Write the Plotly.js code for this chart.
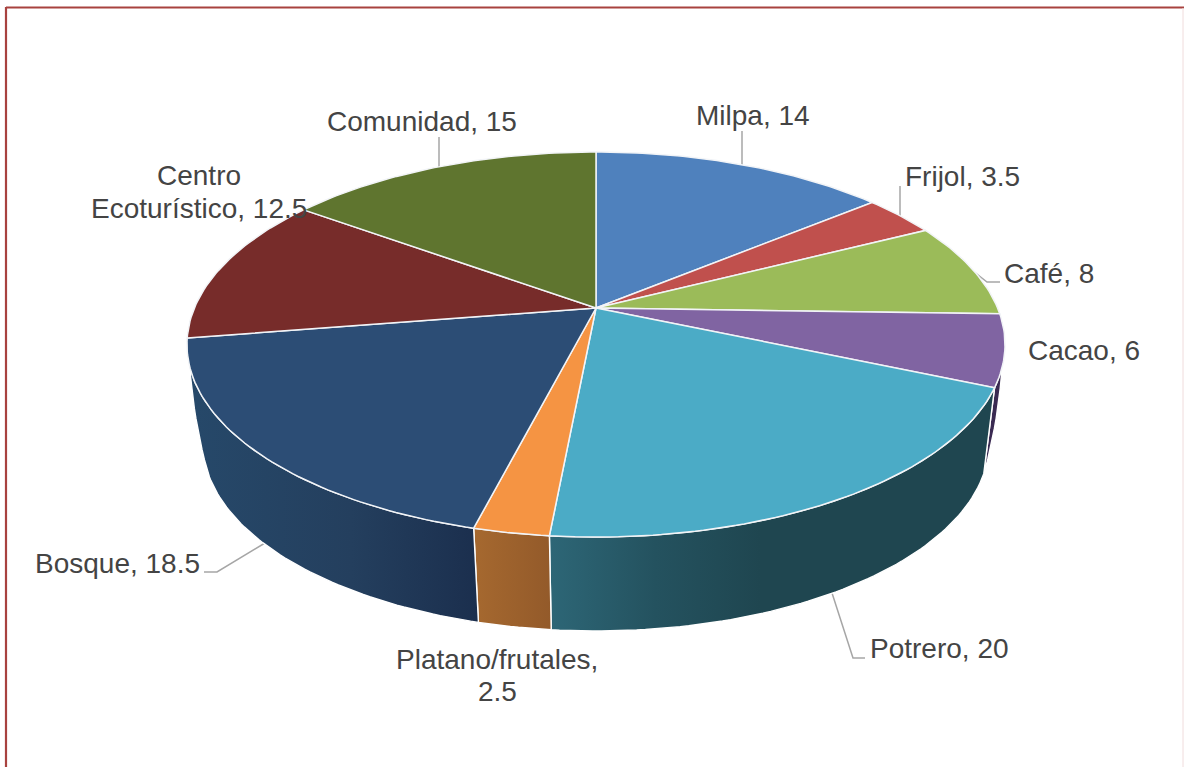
<!DOCTYPE html>
<html>
<head>
<meta charset="utf-8">
<script src="https://cdn.plot.ly/plotly-3.0.1.min.js"></script>
<style>html,body{margin:0;padding:0;background:#fff;overflow:hidden}#chart{width:1184px;height:767px}</style>
</head>
<body>
<div id="chart"></div>
<script>
// Data
const categories = ['Milpa','Frijol','Café','Cacao','Potrero','Platano/frutales','Bosque','Centro Ecoturístico','Comunidad'];
const values = [14,3.5,8,6,20,2.5,18.5,12.5,15];
const topColors = ['#4f81bd','#c0504d','#9bbb59','#8064a2','#4babc6','#f59443','#2c4d75','#772c2a','#5f752f'];

// Wall shading (left colour -> right colour, gradient span in x); null = no visible wall
const wallShades = [null,null,null,
  {c:[['#3a2a52',0],['#3a2a52',1]],a:980,b:1005},
  {c:[['#2d6676',0],['#24525f',0.5],['#1f4650',1]],a:551,b:760},
  {c:[['#a5682f',0],['#935a2a',1]],a:477,b:551},
  {c:[['#264869',0],['#243f5e',0.55],['#1b2f4e',1]],a:197,b:477},
  null,null];

// Projection of the tilted disc onto the page
const cx=596, persp=0.1896;
const topRing={y0:308,s:401.6,c:185.6};
const baseRing={y0:407.4,s:385.9,c:181.2};
function project(ring,deg){
  const t=deg*Math.PI/180,u=Math.sin(t),v=Math.cos(t),d=1+persp*v;
  return [cx+ring.s*u/d, ring.y0-ring.c*v/d];
}
function baseAngle(deg){return deg-3.7*Math.max(0,Math.sin(deg*Math.PI/180));}
function arc(ring,a,b,warp){
  const n=Math.max(2,Math.ceil(Math.abs(b-a))),pts=[];
  for(let i=0;i<=n;i++){const d=a+(b-a)*i/n;pts.push(project(ring,warp?baseAngle(d):d));}
  return pts;
}
// Curved side silhouette between a point on the top ring and one on the base ring
function edge(p,q,dir){
  const pts=[];
  for(let i=1;i<10;i++){
    const t=i/10;
    pts.push([p[0]+(q[0]-p[0])*t+dir*2.5*4*t*(1-t), p[1]+(q[1]-p[1])*t]);
  }
  return pts;
}

const total=values.reduce((s,x)=>s+x,0);
let run=0;
const spans=values.map(x=>{const a=run/total*360;run+=x;return [a,run/total*360];});
// Silhouette angles (top ring / base ring) on the right and left of the disc
const rightTop=107.7, rightBase=112, leftTop=252.5, leftBase=251;
const traces=[];

// side walls
spans.forEach((sp,i)=>{
  const sh=wallShades[i]; if(!sh) return;
  const topA=Math.max(sp[0],rightTop), baseA=Math.max(sp[0],rightBase);
  const topB=Math.min(sp[1],leftTop), baseB=Math.min(sp[1],leftBase);
  let pts=arc(topRing,topA,topB,false);
  const tEnd=pts[pts.length-1];
  const bArc=arc(baseRing,baseA,baseB,true).reverse();
  if(sp[1]>leftTop) pts=pts.concat(edge(tEnd,bArc[0],-1));
  pts=pts.concat(bArc);
  if(sp[0]<rightTop) pts=pts.concat(edge(bArc[bArc.length-1],project(topRing,topA),0).map((p,k)=>{
    const t=(k+1)/10; return [p[0]+2.5*4*t*(1-t),p[1]];}));
  pts.push(pts[0]);
  traces.push({type:'scatter',mode:'lines',x:pts.map(p=>p[0]),y:pts.map(p=>p[1]),fill:'toself',
    fillcolor:sh.c[0][0],
    fillgradient:{type:'horizontal',start:sh.a,stop:sh.b,colorscale:sh.c.map(s=>[s[1],s[0]])},
    line:{color:'#ffffff',width:1.4},hoverinfo:'text',text:categories[i],showlegend:false});
});
// top surface
spans.forEach((sp,i)=>{
  const pts=[[cx,topRing.y0]].concat(arc(topRing,sp[0],sp[1],false));
  pts.push(pts[0]);
  traces.push({type:'scatter',mode:'lines',x:pts.map(p=>p[0]),y:pts.map(p=>p[1]),fill:'toself',
    fillcolor:topColors[i],line:{color:'#f2f4f7',width:1.5},
    hoverinfo:'text',text:categories[i]+', '+values[i],showlegend:false});
});

// label placement: each text line with its centre on the page
const labelLines=[
  [[categories[0]+', '+values[0],752.5,115]],
  [[categories[1]+', '+values[1],962,176]],
  [[categories[2]+', '+values[2],1049,273]],
  [[categories[3]+', '+values[3],1084,350]],
  [[categories[4]+', '+values[4],939,648]],
  [['Platano/frutales,',497,659],[String(values[5]),497,691]],
  [[categories[6]+', '+values[6],117.5,563]],
  [['Centro',199,175],['Ecoturístico, '+values[7],199,208]],
  [[categories[8]+', '+values[8],421.5,121]]
];
const annotations=[];
labelLines.forEach(l=>l.forEach(t=>annotations.push({
  x:t[1],y:t[2],xref:'x',yref:'y',text:t[0],showarrow:false,xanchor:'center',yanchor:'middle',
  font:{family:'"Liberation Sans",Arial,sans-serif',size:28,color:'#444444'}})));

// leader lines and frame
const leaders=[
  'M742,165 L742,131','M900,217 L900,186','M439,167 L439,137',
  'M973,271 L987,282 L1000,282','M265,543 L217,572 L204,572','M832,593 L853,658 L865,658'];
const shapes=leaders.map(p=>({type:'path',path:p,xref:'x',yref:'y',line:{color:'#a6a6a6',width:1.5},layer:'below'}));
shapes.push({type:'line',xref:'x',yref:'y',x0:6,x1:1184,y0:7.5,y1:7.5,line:{color:'#a8423f',width:2.2}});
shapes.push({type:'line',xref:'x',yref:'y',x0:6,x1:6,y0:7,y1:767,line:{color:'#a8423f',width:2.2}});
shapes.push({type:'line',xref:'x',yref:'y',x0:1183,x1:1183,y0:8,y1:767,line:{color:'#f0dcdc',width:1}});

Plotly.newPlot('chart',traces,{
  width:1184,height:767,margin:{l:0,r:0,t:0,b:0},
  paper_bgcolor:'#ffffff',plot_bgcolor:'#ffffff',showlegend:false,
  xaxis:{range:[0,1184],visible:false,fixedrange:true},
  yaxis:{range:[767,0],visible:false,fixedrange:true},
  annotations:annotations,shapes:shapes
},{displayModeBar:false});
</script>
</body>
</html>
